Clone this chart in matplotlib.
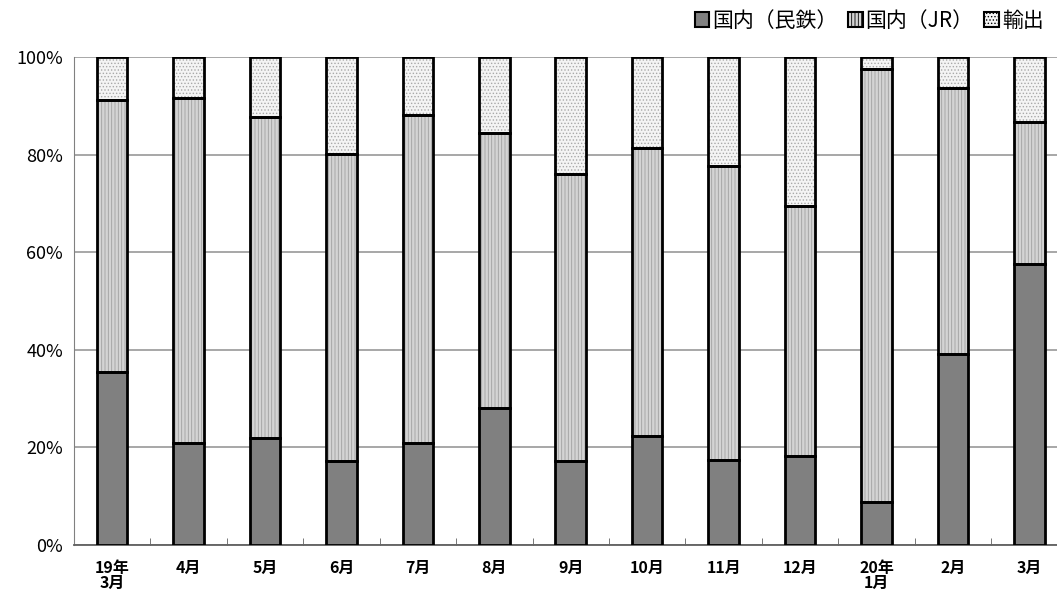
import numpy as np
import matplotlib.pyplot as plt

plt.rcParams['font.family'] = ['Noto Sans CJK JP', 'DejaVu Sans']
plt.rcParams['hatch.linewidth'] = 0.6

months = ['19年\n3月', '4月', '5月', '6月', '7月', '8月', '9月', '10月',
          '11月', '12月', '20年\n1月', '2月', '3月']
# shares in percent
minsei = [35.5, 21.0, 22.0, 17.2, 21.0, 28.1, 17.2, 22.3, 17.4, 18.2, 8.8, 39.1, 57.6]
jr = [55.6, 70.6, 65.7, 62.9, 67.1, 56.3, 58.8, 59.1, 60.3, 51.3, 88.7, 54.5, 29.1]
export = [8.9, 8.4, 12.3, 19.9, 11.9, 15.6, 24.0, 18.6, 22.3, 30.5, 2.5, 6.4, 13.3]

series = [
    ('国内（民鉄）', minsei, '#808080', None, '#808080'),
    ('国内（JR）', jr, '#d4d4d4', '|||||', '#a0a0a0'),
    ('輸出', export, '#f4f4f4', '.....', '#a8a8a8'),
]

fig = plt.figure(figsize=(10.57, 5.99), dpi=100)
ax = fig.add_axes([0.070, 0.090, 0.940, 0.815])

x = np.arange(len(months))
w = 0.4
bottom = np.zeros(len(months))
handles = []
for name, vals, fc, hatch, hc in series:
    vals = np.array(vals)
    ax.bar(x, vals, w, bottom=bottom, color=fc, hatch=hatch,
           edgecolor=hc, linewidth=0, zorder=3)
    ax.bar(x, vals, w, bottom=bottom, facecolor='none',
           edgecolor='black', linewidth=2, zorder=4)
    h = plt.Rectangle((0, 0), 1, 1, facecolor=fc, hatch=hatch, edgecolor='black',
                      linewidth=1.5)
    handles.append(h)
    bottom += vals

ax.set_xlim(-0.5, len(months) - 0.5)
ax.set_ylim(0, 100)
ax.set_yticks(np.arange(0, 101, 20))
ax.set_yticklabels([f'{v}%' for v in range(0, 101, 20)], fontsize=13)
ax.yaxis.grid(True, color='#a0a0a0', linewidth=1.3, zorder=0)
ax.set_xticks(x)
ax.set_xticklabels(months, fontsize=11.5, fontweight='bold', va='top', linespacing=0.9)
ax.set_xticks(np.arange(0.5, len(months) - 0.5, 1), minor=True)
ax.tick_params(axis='x', which='major', length=0, pad=11)
ax.tick_params(axis='x', which='minor', direction='in', length=5, color='#606060')
ax.tick_params(axis='y', length=0, pad=8)
for s in ['top', 'right']:
    ax.spines[s].set_visible(False)
ax.spines['left'].set_color('#808080')
ax.spines['bottom'].set_color('#606060')
ax.spines['bottom'].set_linewidth(1.3)

fig.legend(handles, [s[0] for s in series], loc='upper right',
           bbox_to_anchor=(1.005, 1.015), ncol=3, frameon=False, fontsize=15,
           handlelength=0.7, handleheight=0.7, handletextpad=0.15,
           columnspacing=0.5)

fig.savefig('out.png', dpi=100)
